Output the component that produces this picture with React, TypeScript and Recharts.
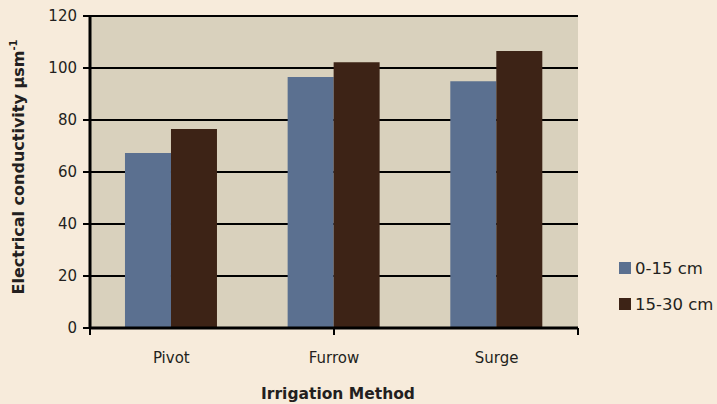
import React from 'react';
import { BarChart, Bar, XAxis, YAxis, CartesianGrid, Legend, Label } from 'recharts';

const categories = ['Pivot', 'Furrow', 'Surge'];
const shallow = [67.3, 96.5, 94.9];
const deep = [76.5, 102.2, 106.5];
const yTicks = [0, 20, 40, 60, 80, 100, 120];
const seriesNames = ['0-15 cm', '15-30 cm'];
const xTickMarks = [0, 1, 2, 3, 4, 5];

const data = categories.map((c, i) => ({ name: c, shallow: shallow[i], deep: deep[i] }));

const FONT = '"DejaVu Sans", "Noto Sans", sans-serif';
const BLUE = '#5b7090';
const BROWN = '#3d2316';

const LegendContent = (props: any) => {
  const items = props.payload || [];
  return (
    <div style={{ fontFamily: FONT, fontSize: 16.5, color: '#231f20' }}>
      {items.map((it: any) => (
        <div key={it.value} style={{ display: 'flex', alignItems: 'center', height: 36 }}>
          <span style={{ display: 'inline-block', width: 12, height: 12, background: it.color, marginRight: 4 }} />
          <span>{it.value}</span>
        </div>
      ))}
    </div>
  );
};

const YTitle = (props: any) => {
  const vb = props.viewBox || {};
  const cy = vb.y + vb.height / 2 - 5;
  const cx = 24;
  return (
    <text x={cx} y={cy} transform={`rotate(-90, ${cx}, ${cy})`} textAnchor="middle"
      style={{ fontFamily: FONT, fontSize: 16, fontWeight: 700, fill: '#231f20' }}>
      Electrical conductivity µsm<tspan dy={-7} fontSize={10}>-1</tspan>
    </text>
  );
};

const XTitle = (props: any) => {
  const vb = props.viewBox || {};
  return (
    <text x={vb.x + vb.width / 2 + 4} y={vb.y + vb.height - 5} textAnchor="middle"
      style={{ fontFamily: FONT, fontSize: 15.5, fontWeight: 700, fill: '#231f20' }}>
      Irrigation Method
    </text>
  );
};

const NoLabel = () => <g />;

export default function App() {
  return (
    <div style={{ position: 'absolute', left: 0, top: 0, width: 717, height: 404, background: '#f7ebdb' }}>
      <BarChart width={717} height={404} data={data}
        margin={{ top: 16, right: 41, bottom: 0, left: 0 }}
        barGap={0} barCategoryGap="21.5%">
        <CartesianGrid xAxisId="cat" vertical={false} stroke="#000" strokeWidth={2} fill="#d9d1bd" fillOpacity={1} />
        <XAxis xAxisId={0} type="number" domain={[0, 5]} ticks={xTickMarks} interval={0} allowDataOverflow
          height={8} tick={NoLabel} tickSize={7}
          axisLine={{ stroke: '#000', strokeWidth: 3 }} tickLine={{ stroke: '#000', strokeWidth: 2 }} />
        <XAxis xAxisId="cat" dataKey="name" height={68} axisLine={false} tickLine={false} tickSize={0} tickMargin={16}
          tick={{ fontFamily: FONT, fontSize: 15, fill: '#231f20' }}>
          <Label content={<XTitle />} />
        </XAxis>
        <YAxis width={90} domain={[0, 120]} ticks={yTicks} interval={0} tickSize={7} tickMargin={6}
          axisLine={{ stroke: '#000', strokeWidth: 3 }} tickLine={{ stroke: '#000', strokeWidth: 2 }}
          tick={{ fontFamily: FONT, fontSize: 15, fill: '#231f20' }}>
          <Label content={<YTitle />} />
        </YAxis>
        <Legend layout="vertical" align="right" verticalAlign="top" content={<LegendContent />}
          wrapperStyle={{ position: 'absolute', left: 619, top: 250, width: 98 }} />
        <Bar xAxisId="cat" dataKey="shallow" name={seriesNames[0]} fill={BLUE} isAnimationActive={false} />
        <Bar xAxisId="cat" dataKey="deep" name={seriesNames[1]} fill={BROWN} isAnimationActive={false} />
      </BarChart>
    </div>
  );
}
